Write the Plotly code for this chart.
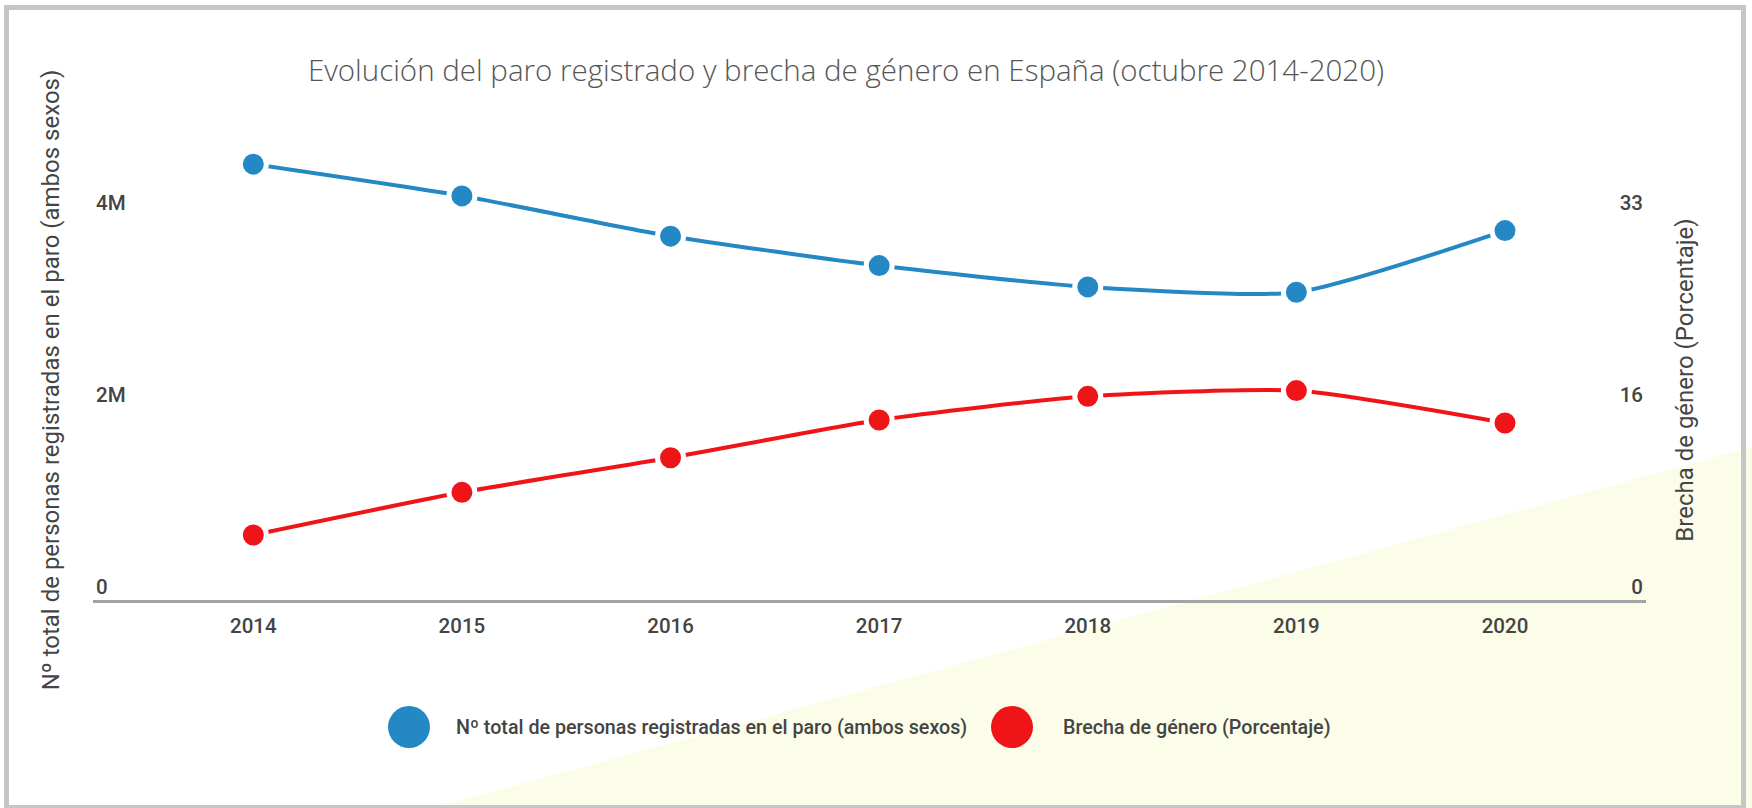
import plotly.graph_objects as go

# ---------------- data ----------------
years = [2014, 2015, 2016, 2017, 2018, 2019, 2020]
paro_total = [4534000, 4204000, 3785000, 3479000, 3257000, 3202000, 3843000]
brecha_genero = [5.58, 9.24, 12.21, 15.45, 17.48, 17.97, 15.19]

left_tickvals = [0, 2000000, 4000000]
left_ticktext = ["0", "2M", "4M"]
right_tickvals = [0, 16.5, 33]
right_ticktext = ["0", "16", "33"]

name_total = "Nº total de personas registradas en el paro (ambos sexos)"
name_brecha = "Brecha de género (Porcentaje)"
title_text = "Evolución del paro registrado y brecha de género en España (octubre 2014-2020)"

# ---------------- layout constants ----------------
W, H = 1752, 808
L, R, T, B = 93, 1646, 160, 600      # plot area in page pixels
Y4M = 215.5                           # pixel row of the 4M / 33 tick
BLUE = "#2488c4"
RED = "#ee1418"
TXT = "#444444"

left_max = 4000000 * (B - T) / (B - Y4M)
right_max = left_max * 33 / 4000000
x_per_year = (1505 - 253.3) / 6
x_range = [2014 - (253.3 - L) / x_per_year, 2020 + (R - 1505) / x_per_year]


def px(x):
    return (x - L) / (R - L)


def py(y):
    return (B - y) / (B - T)


fig = go.Figure()
fig.add_trace(go.Scatter(
    x=years, y=paro_total, name=name_total, mode="lines+markers",
    line=dict(color=BLUE, width=4, shape="spline", smoothing=0.6),
    marker=dict(size=26, color=BLUE, line=dict(color="white", width=5)),
    cliponaxis=False, yaxis="y",
))
fig.add_trace(go.Scatter(
    x=years, y=brecha_genero, name=name_brecha, mode="lines+markers",
    line=dict(color=RED, width=4, shape="spline", smoothing=0.6),
    marker=dict(size=26, color=RED, line=dict(color="white", width=5)),
    cliponaxis=False, yaxis="y2",
))

shapes = [
    # light yellow background triangle
    dict(type="path", xref="paper", yref="paper", layer="below",
         path=f"M {px(433)},{py(808)} L {px(1752)},{py(447)} L {px(1752)},{py(808)} Z",
         fillcolor="#fbfde8", line=dict(width=0)),
    # grey frame
    dict(type="rect", xref="paper", yref="paper", layer="below",
         x0=px(6.5), x1=px(1743.5), y0=py(807.5), y1=py(7.5),
         line=dict(color="#c6c6c6", width=5), fillcolor="rgba(0,0,0,0)"),
]
# custom legend circles
for cx, col in [(409, BLUE), (1012, RED)]:
    shapes.append(dict(type="circle", xref="paper", yref="paper",
                       xsizemode="pixel", ysizemode="pixel",
                       xanchor=px(cx), yanchor=py(727),
                       x0=-21, x1=21, y0=-21, y1=21,
                       fillcolor=col, line=dict(width=0)))

legend_font = dict(family="Roboto", size=19.7, color=TXT, weight=500)
annotations = [
    dict(text=name_total, x=px(454), y=py(727), xref="paper", yref="paper",
         xanchor="left", yanchor="middle", showarrow=False, font=legend_font),
    dict(text=name_brecha, x=px(1061), y=py(727), xref="paper", yref="paper",
         xanchor="left", yanchor="middle", showarrow=False, font=legend_font),
]

tick_font = dict(family="Roboto", size=20.5, color=TXT, weight=500)
axis_title_font = dict(family="Roboto", size=24, color=TXT)

fig.update_layout(
    width=W, height=H,
    margin=dict(l=L, r=W - R, t=T, b=H - B, autoexpand=False),
    paper_bgcolor="white", plot_bgcolor="rgba(0,0,0,0)",
    showlegend=False,
    title=dict(text=title_text, x=846 / W, xref="container", xanchor="center",
               y=1 - 71 / H, yref="container", yanchor="middle",
               font=dict(family="Open Sans", size=29.5, color="#555555", weight=300)),
    xaxis=dict(range=x_range, tickvals=years, ticktext=[str(y) for y in years],
               showline=True, linecolor="#a3a3a3", linewidth=3, ticks="",
               showgrid=False, zeroline=False, ticklabelstandoff=5,
               tickfont=tick_font),
    yaxis=dict(range=[0, left_max], tickvals=left_tickvals, ticktext=left_ticktext,
               ticklabelposition="inside", ticklabelshift=-13, ticks="",
               showgrid=False, zeroline=False, showline=False, automargin=False,
               tickfont=tick_font,
               title=dict(text=name_total, standoff=29, font=axis_title_font)),
    yaxis2=dict(range=[0, right_max], tickvals=right_tickvals, ticktext=right_ticktext,
                overlaying="y", side="right", anchor="x",
                ticklabelposition="inside", ticklabelshift=-13, ticks="",
                showgrid=False, zeroline=False, showline=False, automargin=False,
                tickfont=tick_font,
                title=dict(text=name_brecha, standoff=34, font=axis_title_font)),
    shapes=shapes,
    annotations=annotations,
)

fig.write_html("out.html", config={"displayModeBar": False},
               post_script="document.body.style.margin='0';")
